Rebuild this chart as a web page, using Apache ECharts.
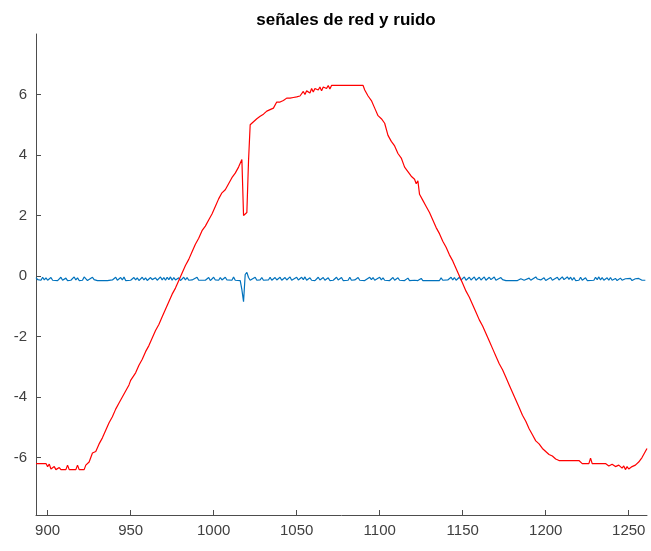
<!DOCTYPE html>
<html>
<head>
<meta charset="utf-8">
<script src="https://cdn.jsdelivr.net/npm/echarts@6/dist/echarts.min.js"></script>
<style>
  html, body { margin: 0; padding: 0; background: #fff; }
  #chart { width: 651px; height: 551px; }
</style>
</head>
<body>
<div id="chart"></div>
<script>
// tick labels
const xTicks = [900, 950, 1000, 1050, 1100, 1150, 1200, 1250];
const yTicks = [-6, -4, -2, 0, 2, 4, 6];

// red signal (red)
const redX = [893, 899, 900, 901, 902, 904, 905, 907, 908, 911, 912, 913, 917, 918, 919, 922, 923, 925, 927, 929,
  931, 933, 935, 937, 939, 941, 943, 945, 947, 949, 950, 951, 953, 955, 957, 959, 961, 963, 965, 967,
  969, 971, 973, 975, 977, 979, 981, 983, 985, 987, 989, 991, 993, 995, 997, 999, 1001, 1003, 1005, 1007,
  1009, 1011, 1013, 1015, 1017, 1018, 1020, 1021, 1022, 1024, 1026, 1028, 1030, 1032, 1034, 1036, 1038, 1040, 1042, 1044,
  1046, 1048, 1050, 1052, 1054, 1055, 1056, 1058, 1059, 1060, 1061, 1063, 1064, 1065, 1066, 1068, 1069, 1070, 1071, 1090,
  1091, 1093, 1095, 1097, 1099, 1101, 1103, 1105, 1107, 1109, 1111, 1113, 1115, 1117, 1119, 1121, 1122, 1123, 1124, 1126,
  1128, 1130, 1132, 1134, 1136, 1138, 1140, 1142, 1144, 1146, 1148, 1150, 1152, 1154, 1156, 1158, 1160, 1162, 1164, 1166,
  1168, 1170, 1172, 1174, 1176, 1178, 1180, 1182, 1184, 1186, 1188, 1190, 1192, 1194, 1196, 1198, 1200, 1202, 1204, 1206,
  1208, 1220, 1222, 1226, 1227, 1228, 1236, 1238, 1240, 1242, 1244, 1246, 1247, 1248, 1249, 1250, 1252, 1254, 1256, 1258,
  1260, 1261];
const redY = [-6.2, -6.2, -6.3, -6.22, -6.38, -6.3, -6.4, -6.33, -6.4, -6.4, -6.25, -6.4, -6.4, -6.25, -6.4, -6.4, -6.25, -6.15, -5.85, -5.8,
  -5.55, -5.35, -5.1, -4.85, -4.65, -4.4, -4.2, -4.0, -3.8, -3.6, -3.45, -3.5, -3.2, -2.95, -2.75, -2.5, -2.3, -2.05, -1.8, -1.6,
  -1.35, -1.1, -0.85, -0.6, -0.4, -0.15, 0.1, 0.35, 0.55, 0.8, 1.05, 1.25, 1.5, 1.65, 1.85, 2.05, 2.3, 2.55, 2.75, 2.85,
  3.05, 3.25, 3.4, 3.6, 3.85, 2.0, 2.1, 3.8, 5.0, 5.1, 5.2, 5.28, 5.35, 5.45, 5.5, 5.55, 5.75, 5.75, 5.8, 5.88,
  5.88, 5.9, 5.92, 5.95, 6.1, 6.0, 6.12, 6.05, 6.2, 6.08, 6.2, 6.15, 6.25, 6.12, 6.25, 6.2, 6.3, 6.18, 6.3, 6.3,
  6.15, 5.95, 5.8, 5.55, 5.3, 5.2, 5.05, 4.65, 4.45, 4.3, 4.05, 3.9, 3.6, 3.45, 3.3, 3.2, 3.05, 3.15, 2.7, 2.5,
  2.3, 2.1, 1.85, 1.6, 1.4, 1.15, 0.95, 0.7, 0.5, 0.25, 0.0, -0.25, -0.5, -0.7, -0.95, -1.2, -1.45, -1.65, -1.9, -2.15,
  -2.4, -2.65, -2.9, -3.1, -3.35, -3.6, -3.85, -4.1, -4.35, -4.6, -4.8, -5.05, -5.25, -5.45, -5.55, -5.7, -5.8, -5.9, -5.95, -6.05,
  -6.1, -6.1, -6.2, -6.2, -6.02, -6.2, -6.2, -6.28, -6.22, -6.3, -6.25, -6.35, -6.28, -6.4, -6.3, -6.38, -6.3, -6.25, -6.15, -6.0,
  -5.8, -5.7];

// noise (blue)
const noiseX = [893, 894, 895, 896, 897, 898, 899, 900, 902, 903, 904, 906, 908, 909, 911, 912, 914, 916, 917, 918,
  919, 921, 922, 924, 927, 928, 929, 930, 936, 937, 939, 941, 942, 944, 945, 946, 947, 950, 952, 953,
  954, 955, 957, 958, 959, 960, 962, 963, 965, 966, 968, 969, 970, 971, 972, 973, 974, 975, 976, 977,
  979, 980, 982, 983, 984, 985, 987, 990, 991, 995, 997, 998, 1000, 1001, 1003, 1004, 1005, 1007, 1008, 1011,
  1012, 1013, 1016, 1017, 1018, 1019, 1020, 1021, 1022, 1025, 1026, 1028, 1029, 1030, 1033, 1034, 1035, 1037, 1038, 1040,
  1041, 1043, 1044, 1046, 1047, 1050, 1051, 1053, 1054, 1055, 1056, 1058, 1059, 1061, 1063, 1064, 1066, 1067, 1069, 1070,
  1072, 1074, 1075, 1077, 1078, 1081, 1082, 1083, 1085, 1087, 1088, 1091, 1094, 1095, 1096, 1097, 1100, 1101, 1102, 1103,
  1106, 1108, 1109, 1111, 1112, 1115, 1117, 1118, 1121, 1123, 1125, 1126, 1136, 1137, 1138, 1141, 1143, 1144, 1145, 1146,
  1148, 1149, 1151, 1152, 1154, 1155, 1157, 1158, 1160, 1161, 1163, 1164, 1166, 1167, 1169, 1170, 1173, 1174, 1176, 1183,
  1185, 1186, 1187, 1190, 1191, 1194, 1195, 1196, 1197, 1199, 1200, 1203, 1204, 1207, 1208, 1210, 1211, 1213, 1214, 1215,
  1216, 1217, 1218, 1220, 1221, 1222, 1224, 1225, 1229, 1230, 1231, 1232, 1233, 1234, 1235, 1237, 1238, 1239, 1240, 1242,
  1243, 1245, 1246, 1248, 1249, 1251, 1252, 1254, 1255, 1256, 1258, 1259, 1260];
const noiseY = [-0.05, -0.12, -0.08, -0.14, -0.04, -0.13, -0.06, -0.14, -0.05, -0.14, -0.08, -0.15, -0.04, -0.14, -0.07, -0.15, -0.14, -0.03, -0.13, -0.06,
  -0.15, -0.14, -0.03, -0.15, -0.04, -0.12, -0.07, -0.15, -0.15, -0.09, -0.13, -0.04, -0.14, -0.05, -0.13, -0.03, -0.15, -0.14, -0.05, -0.13,
  -0.06, -0.15, -0.04, -0.13, -0.06, -0.15, -0.05, -0.12, -0.06, -0.14, -0.03, -0.13, -0.05, -0.14, -0.04, -0.12, -0.03, -0.14, -0.05, -0.13,
  -0.06, -0.15, -0.04, -0.13, -0.05, -0.14, -0.13, -0.04, -0.14, -0.14, -0.05, -0.15, -0.04, -0.13, -0.14, -0.05, -0.13, -0.04, -0.13, -0.14,
  -0.03, -0.14, -0.15, -0.45, -0.85, 0.05, 0.12, -0.05, -0.14, -0.04, -0.14, -0.13, -0.05, -0.14, -0.13, -0.04, -0.14, -0.05, -0.13, -0.04,
  -0.14, -0.05, -0.13, -0.03, -0.14, -0.04, -0.13, -0.04, -0.12, -0.03, -0.14, -0.06, -0.14, -0.15, -0.04, -0.13, -0.05, -0.14, -0.06, -0.15,
  -0.14, -0.04, -0.13, -0.05, -0.15, -0.14, -0.04, -0.14, -0.13, -0.05, -0.14, -0.15, -0.04, -0.12, -0.05, -0.14, -0.04, -0.13, -0.06, -0.14,
  -0.15, -0.05, -0.14, -0.06, -0.14, -0.15, -0.07, -0.15, -0.14, -0.15, -0.08, -0.15, -0.15, -0.06, -0.14, -0.13, -0.04, -0.13, -0.05, -0.14,
  -0.04, -0.13, -0.03, -0.14, -0.04, -0.13, -0.03, -0.14, -0.04, -0.13, -0.03, -0.14, -0.04, -0.12, -0.03, -0.14, -0.05, -0.12, -0.15, -0.15,
  -0.09, -0.06, -0.14, -0.07, -0.14, -0.03, -0.1, -0.04, -0.13, -0.06, -0.15, -0.05, -0.14, -0.04, -0.13, -0.03, -0.12, -0.03, -0.11, -0.04,
  -0.14, -0.05, -0.15, -0.14, -0.04, -0.14, -0.06, -0.15, -0.14, -0.04, -0.12, -0.03, -0.13, -0.05, -0.14, -0.06, -0.14, -0.05, -0.14, -0.08,
  -0.15, -0.07, -0.14, -0.09, -0.15, -0.08, -0.15, -0.09, -0.15, -0.08, -0.14, -0.10, -0.14];

const zip = (xs, ys) => xs.map((x, i) => [x, ys[i]]);

const chart = echarts.init(document.getElementById("chart"));

const axisColor = "#4d4d4d";
const labelStyle = { color: "#404040", fontSize: 15, fontFamily: "Liberation Sans, Arial, sans-serif" };

const option = {
  animation: false,
  backgroundColor: "#fff",
  title: {
    text: "señales de red y ruido",
    left: 341,
    textAlign: "center",
    top: 7,
    textStyle: { color: "#000", fontSize: 17, fontWeight: "bold", fontFamily: "Liberation Sans, Arial, sans-serif" },
  },
  grid: { left: 36, right: 4, top: 34, bottom: 36, containLabel: false },
  xAxis: {
    type: "value",
    min: 893,
    max: 1261,
    axisLine: { show: true, onZero: false, lineStyle: { color: axisColor, width: 1 } },
    axisTick: { show: true, inside: true, length: 5, customValues: xTicks, lineStyle: { color: axisColor } },
    axisLabel: { ...labelStyle, margin: 8, customValues: xTicks, formatter: (v) => String(v) },
    splitLine: { show: false },
  },
  yAxis: {
    type: "value",
    min: -7.9,
    max: 8,
    axisLine: { show: true, onZero: false, lineStyle: { color: axisColor, width: 1 } },
    axisTick: { show: true, inside: true, length: 5, customValues: yTicks, lineStyle: { color: axisColor } },
    axisLabel: { ...labelStyle, margin: 9, customValues: yTicks, formatter: (v) => String(v) },
    splitLine: { show: false },
  },
  series: [
    {
      name: "ruido",
      type: "line",
      data: zip(noiseX, noiseY),
      showSymbol: false,
      lineStyle: { color: "#0072BD", width: 1.2 },
      itemStyle: { color: "#0072BD" },
    },
    {
      name: "red",
      type: "line",
      data: zip(redX, redY),
      showSymbol: false,
      lineStyle: { color: "#ff0000", width: 1.2 },
      itemStyle: { color: "#ff0000" },
    },
  ],
};

chart.setOption(option);
</script>
</body>
</html>
